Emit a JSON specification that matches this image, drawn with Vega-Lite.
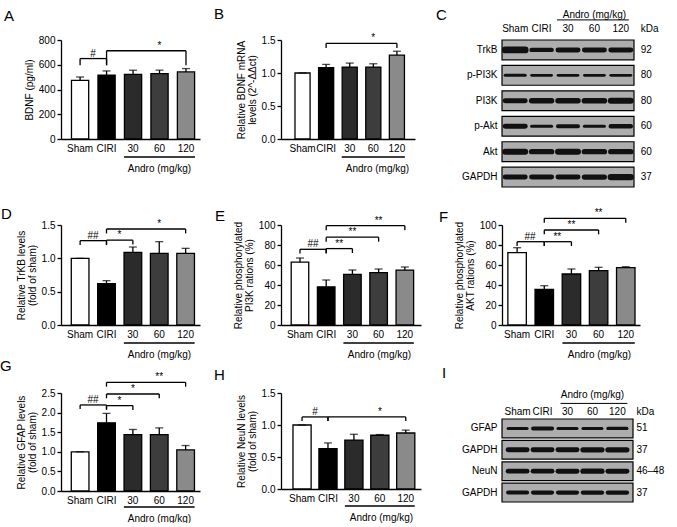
{
"$schema":"https://vega.github.io/schema/vega-lite/v6.json",
"background":"white",
"padding":{"left":0,"top":7,"right":0,"bottom":0},
"columns":3,
"bounds":"flush",
"spacing":{"row":68,"column":81},
"datasets":{
"bars":[
{"p":"A","g":"Sham","m":474,"hi":501},{"p":"A","g":"CIRI","m":515,"hi":550},{"p":"A","g":"30","m":523,"hi":556},{"p":"A","g":"60","m":528,"hi":556},{"p":"A","g":"120","m":542,"hi":569},
{"p":"B","g":"Sham","m":1.0,"hi":1.0},{"p":"B","g":"CIRI","m":1.08,"hi":1.13},{"p":"B","g":"30","m":1.09,"hi":1.15},{"p":"B","g":"60","m":1.09,"hi":1.14},{"p":"B","g":"120","m":1.27,"hi":1.33},
{"p":"D","g":"Sham","m":1.0,"hi":1.0},{"p":"D","g":"CIRI","m":0.62,"hi":0.665},{"p":"D","g":"30","m":1.09,"hi":1.17},{"p":"D","g":"60","m":1.075,"hi":1.25},{"p":"D","g":"120","m":1.075,"hi":1.15},
{"p":"E","g":"Sham","m":62.8,"hi":67},{"p":"E","g":"CIRI","m":38.2,"hi":45},{"p":"E","g":"30","m":50.7,"hi":55},{"p":"E","g":"60","m":52.4,"hi":56},{"p":"E","g":"120","m":54.9,"hi":58},
{"p":"F","g":"Sham","m":72.3,"hi":77.3},{"p":"F","g":"CIRI","m":35.7,"hi":39.3},{"p":"F","g":"30","m":51,"hi":56},{"p":"F","g":"60","m":54.3,"hi":57.7},{"p":"F","g":"120","m":57.3,"hi":58.3},
{"p":"G","g":"Sham","m":1.0,"hi":1.0},{"p":"G","g":"CIRI","m":1.74,"hi":1.98},{"p":"G","g":"30","m":1.44,"hi":1.57},{"p":"G","g":"60","m":1.44,"hi":1.61},{"p":"G","g":"120","m":1.05,"hi":1.16},
{"p":"H","g":"Sham","m":1.0,"hi":1.0},{"p":"H","g":"CIRI","m":0.63,"hi":0.72},{"p":"H","g":"30","m":0.765,"hi":0.855},{"p":"H","g":"60","m":0.84,"hi":0.85},{"p":"H","g":"120","m":0.875,"hi":0.92}
],
"brk":[
{"p":"A","a":"Sham","b":"CIRI","lv":650,"dr":596,"t":"#","adj":true,"mid":"Sham"},
{"p":"A","a":"CIRI","b":"120","lv":713,"dr":596,"t":"*","adj":false,"mid":"60"},
{"p":"B","a":"CIRI","b":"120","lv":1.45,"dr":1.38,"t":"*","adj":false,"mid":"60"},
{"p":"D","a":"Sham","b":"CIRI","lv":1.265,"dr":1.2,"t":"##","adj":true,"mid":"Sham"},
{"p":"D","a":"CIRI","b":"30","lv":1.273,"dr":1.208,"t":"*","adj":true,"mid":"CIRI"},
{"p":"D","a":"CIRI","b":"120","lv":1.44,"dr":1.374,"t":"*","adj":false,"mid":"60"},
{"p":"E","a":"Sham","b":"CIRI","lv":75.7,"dr":71.5,"t":"##","adj":true,"mid":"Sham"},
{"p":"E","a":"CIRI","b":"30","lv":76.4,"dr":72,"t":"**","adj":true,"mid":"CIRI"},
{"p":"E","a":"CIRI","b":"60","lv":87.8,"dr":83.3,"t":"**","adj":false,"mid":"30"},
{"p":"E","a":"CIRI","b":"120","lv":99.3,"dr":94.8,"t":"**","adj":false,"mid":"60"},
{"p":"F","a":"Sham","b":"CIRI","lv":83.3,"dr":79,"t":"##","adj":true,"mid":"Sham"},
{"p":"F","a":"CIRI","b":"30","lv":83.3,"dr":79,"t":"**","adj":true,"mid":"CIRI"},
{"p":"F","a":"CIRI","b":"60","lv":95,"dr":90.7,"t":"**","adj":false,"mid":"30"},
{"p":"F","a":"CIRI","b":"120","lv":106.7,"dr":102.3,"t":"**","adj":false,"mid":"60"},
{"p":"G","a":"Sham","b":"CIRI","lv":2.195,"dr":2.093,"t":"##","adj":true,"mid":"Sham"},
{"p":"G","a":"CIRI","b":"30","lv":2.178,"dr":2.068,"t":"*","adj":true,"mid":"CIRI"},
{"p":"G","a":"CIRI","b":"60","lv":2.475,"dr":2.364,"t":"*","adj":false,"mid":"30"},
{"p":"G","a":"CIRI","b":"120","lv":2.771,"dr":2.66,"t":"**","adj":false,"mid":"60"},
{"p":"H","a":"Sham","b":"CIRI","lv":1.126,"dr":1.063,"t":"#","adj":true,"mid":"Sham"},
{"p":"H","a":"CIRI","b":"120","lv":1.126,"dr":1.063,"t":"*","adj":false,"mid":"60"}
],
"blot":[
{"p":"C","r":"TrkB","k":"92"},{"p":"C","r":"p-PI3K","k":"80"},{"p":"C","r":"PI3K","k":"80"},{"p":"C","r":"p-Akt","k":"60"},{"p":"C","r":"Akt","k":"60"},{"p":"C","r":"GAPDH","k":"37"},
{"p":"I","r":"GFAP","k":"51"},{"p":"I","r":"GAPDH#1","k":"37"},{"p":"I","r":"NeuN","k":"46–48"},{"p":"I","r":"GAPDH#2","k":"37"}
],
"band":[
{"p":"C","r":"TrkB","l":"Sham","v":0.85},{"p":"C","r":"TrkB","l":"CIRI","v":0.55},{"p":"C","r":"TrkB","l":"30","v":0.62},{"p":"C","r":"TrkB","l":"60","v":0.62},{"p":"C","r":"TrkB","l":"120","v":0.62},
{"p":"C","r":"p-PI3K","l":"Sham","v":0.38},{"p":"C","r":"p-PI3K","l":"CIRI","v":0.34},{"p":"C","r":"p-PI3K","l":"30","v":0.34},{"p":"C","r":"p-PI3K","l":"60","v":0.34},{"p":"C","r":"p-PI3K","l":"120","v":0.36},
{"p":"C","r":"PI3K","l":"Sham","v":0.62},{"p":"C","r":"PI3K","l":"CIRI","v":0.68},{"p":"C","r":"PI3K","l":"30","v":0.68},{"p":"C","r":"PI3K","l":"60","v":0.7},{"p":"C","r":"PI3K","l":"120","v":0.75},
{"p":"C","r":"p-Akt","l":"Sham","v":0.62},{"p":"C","r":"p-Akt","l":"CIRI","v":0.38},{"p":"C","r":"p-Akt","l":"30","v":0.5},{"p":"C","r":"p-Akt","l":"60","v":0.38},{"p":"C","r":"p-Akt","l":"120","v":0.55},
{"p":"C","r":"Akt","l":"Sham","v":0.75},{"p":"C","r":"Akt","l":"CIRI","v":0.68},{"p":"C","r":"Akt","l":"30","v":0.75},{"p":"C","r":"Akt","l":"60","v":0.68},{"p":"C","r":"Akt","l":"120","v":0.68},
{"p":"C","r":"GAPDH","l":"Sham","v":0.62},{"p":"C","r":"GAPDH","l":"CIRI","v":0.62},{"p":"C","r":"GAPDH","l":"30","v":0.62},{"p":"C","r":"GAPDH","l":"60","v":0.65},{"p":"C","r":"GAPDH","l":"120","v":0.8},
{"p":"I","r":"GFAP","l":"Sham","v":0.38},{"p":"I","r":"GFAP","l":"CIRI","v":0.5},{"p":"I","r":"GFAP","l":"30","v":0.38},{"p":"I","r":"GFAP","l":"60","v":0.38},{"p":"I","r":"GFAP","l":"120","v":0.4},
{"p":"I","r":"GAPDH#1","l":"Sham","v":0.62},{"p":"I","r":"GAPDH#1","l":"CIRI","v":0.62},{"p":"I","r":"GAPDH#1","l":"30","v":0.62},{"p":"I","r":"GAPDH#1","l":"60","v":0.65},{"p":"I","r":"GAPDH#1","l":"120","v":0.65},
{"p":"I","r":"NeuN","l":"Sham","v":0.6},{"p":"I","r":"NeuN","l":"CIRI","v":0.6},{"p":"I","r":"NeuN","l":"30","v":0.62},{"p":"I","r":"NeuN","l":"60","v":0.65},{"p":"I","r":"NeuN","l":"120","v":0.62},
{"p":"I","r":"GAPDH#2","l":"Sham","v":0.5},{"p":"I","r":"GAPDH#2","l":"CIRI","v":0.52},{"p":"I","r":"GAPDH#2","l":"30","v":0.52},{"p":"I","r":"GAPDH#2","l":"60","v":0.55},{"p":"I","r":"GAPDH#2","l":"120","v":0.55}
]
},
"concat":[
{"width":139,"height":99,"title":{"text":"A","dx":-57,"dy":-5},
"layer":[
{"data":{"name":"bars"},"transform":[{"filter":"datum.p=='A'"}],"mark":{"type":"bar","stroke":"black","strokeWidth":1.3},
"encoding":{"x":{"field":"g","type":"nominal","scale":{"domain":["Sham","CIRI","30","60","120"],"paddingInner":0.35,"paddingOuter":0.3,"align":0.66},"axis":{"title":"Andro (mg/kg)","titleX":98,"titleY":29,"titleAlign":"center","titleBaseline":"middle","ticks":false,"labelPadding":4}},
"y":{"field":"m","type":"quantitative","scale":{"domain":[0,800],"nice":false},"axis":{"title":"BDNF (pg/ml)","values":[0,200,400,600,800],"tickCount":20}},
"fill":{"field":"g","type":"nominal","scale":{"domain":["Sham","CIRI","30","60","120"],"range":["#ffffff","#000000","#2b2b2b","#3d3d3d","#8a8a8a"]},"legend":null}}},
{"data":{"name":"bars"},"transform":[{"filter":"datum.p=='A'"}],"mark":{"type":"rule","color":"black","strokeWidth":1.3},"encoding":{"x":{"field":"g","type":"nominal"},"y":{"field":"m","type":"quantitative"},"y2":{"field":"hi"}}},
{"data":{"name":"bars"},"transform":[{"filter":"datum.p=='A'"}],"mark":{"type":"tick","color":"black","thickness":1.3,"size":8},"encoding":{"x":{"field":"g","type":"nominal"},"y":{"field":"hi","type":"quantitative"}}},
{"data":{"name":"brk"},"transform":[{"filter":"datum.p=='A'"}],"mark":{"type":"rule","color":"black","strokeWidth":1.3},"encoding":{"x":{"field":"a","type":"nominal"},"x2":{"field":"b"},"y":{"field":"lv","type":"quantitative"}}},
{"data":{"name":"brk"},"transform":[{"filter":"datum.p=='A'"}],"mark":{"type":"rule","color":"black","strokeWidth":1.3},"encoding":{"x":{"field":"a","type":"nominal"},"y":{"field":"lv","type":"quantitative"},"y2":{"field":"dr"}}},
{"data":{"name":"brk"},"transform":[{"filter":"datum.p=='A'"}],"mark":{"type":"rule","color":"black","strokeWidth":1.3},"encoding":{"x":{"field":"b","type":"nominal"},"y":{"field":"lv","type":"quantitative"},"y2":{"field":"dr"}}},
{"data":{"name":"brk"},"transform":[{"filter":"datum.p=='A' && datum.adj"}],"mark":{"type":"text","fontSize":10,"dx":13,"dy":-2,"baseline":"alphabetic"},"encoding":{"x":{"field":"a","type":"nominal"},"y":{"field":"lv","type":"quantitative"},"text":{"field":"t"}}},
{"data":{"name":"brk"},"transform":[{"filter":"datum.p=='A' && !datum.adj"}],"mark":{"type":"text","fontSize":10,"dy":-2,"baseline":"alphabetic"},"encoding":{"x":{"field":"mid","type":"nominal"},"y":{"field":"lv","type":"quantitative"},"text":{"field":"t"}}},
{"data":{"values":[{}]},"mark":{"type":"rule","color":"black","strokeWidth":1.3,"xOffset":-9,"x2Offset":9,"yOffset":18},"encoding":{"x":{"datum":"30","type":"nominal"},"x2":{"datum":"120"},"y":{"datum":0,"type":"quantitative"}}}
]},
{"width":134,"height":99,"title":{"text":"B","dx":-67,"dy":-5},
"layer":[
{"data":{"name":"bars"},"transform":[{"filter":"datum.p=='B'"}],"mark":{"type":"bar","stroke":"black","strokeWidth":1.3},
"encoding":{"x":{"field":"g","type":"nominal","scale":{"domain":["Sham","CIRI","30","60","120"],"paddingInner":0.36,"paddingOuter":0.52,"align":0.57},"axis":{"title":"Andro (mg/kg)","titleX":96,"titleY":29,"titleAlign":"center","titleBaseline":"middle","ticks":false,"labelPadding":4}},
"y":{"field":"m","type":"quantitative","scale":{"domain":[0,1.5],"nice":false},"axis":{"title":["Relative BDNF mRNA","levels (2^-ΔΔct)"],"values":[0,0.5,1,1.5],"tickCount":20,"labelExpr":"format(datum.value,'.1f')"}},
"fill":{"field":"g","type":"nominal","scale":{"domain":["Sham","CIRI","30","60","120"],"range":["#ffffff","#000000","#2b2b2b","#3d3d3d","#8a8a8a"]},"legend":null}}},
{"data":{"name":"bars"},"transform":[{"filter":"datum.p=='B'"}],"mark":{"type":"rule","color":"black","strokeWidth":1.3},"encoding":{"x":{"field":"g","type":"nominal"},"y":{"field":"m","type":"quantitative"},"y2":{"field":"hi"}}},
{"data":{"name":"bars"},"transform":[{"filter":"datum.p=='B'"}],"mark":{"type":"tick","color":"black","thickness":1.3,"size":8},"encoding":{"x":{"field":"g","type":"nominal"},"y":{"field":"hi","type":"quantitative"}}},
{"data":{"name":"brk"},"transform":[{"filter":"datum.p=='B'"}],"mark":{"type":"rule","color":"black","strokeWidth":1.3},"encoding":{"x":{"field":"a","type":"nominal"},"x2":{"field":"b"},"y":{"field":"lv","type":"quantitative"}}},
{"data":{"name":"brk"},"transform":[{"filter":"datum.p=='B'"}],"mark":{"type":"rule","color":"black","strokeWidth":1.3},"encoding":{"x":{"field":"a","type":"nominal"},"y":{"field":"lv","type":"quantitative"},"y2":{"field":"dr"}}},
{"data":{"name":"brk"},"transform":[{"filter":"datum.p=='B'"}],"mark":{"type":"rule","color":"black","strokeWidth":1.3},"encoding":{"x":{"field":"b","type":"nominal"},"y":{"field":"lv","type":"quantitative"},"y2":{"field":"dr"}}},
{"data":{"name":"brk"},"transform":[{"filter":"datum.p=='B' && !datum.adj"}],"mark":{"type":"text","fontSize":10,"dy":-2,"baseline":"alphabetic"},"encoding":{"x":{"field":"mid","type":"nominal"},"y":{"field":"lv","type":"quantitative"},"text":{"field":"t"}}},
{"data":{"values":[{}]},"mark":{"type":"rule","color":"black","strokeWidth":1.3,"xOffset":-8,"x2Offset":8,"yOffset":18},"encoding":{"x":{"datum":"30","type":"nominal"},"x2":{"datum":"120"},"y":{"datum":0,"type":"quantitative"}}}
]},
{"width":132,"height":117,"title":{"text":"C","dx":-66,"dy":19},
"layer":[
{"data":{"name":"blot"},"transform":[{"filter":"datum.p=='C'"}],"mark":{"type":"rect","fill":"#adadad","stroke":"black","strokeWidth":1.2},
"encoding":{"y":{"field":"r","type":"nominal","scale":{"domain":["TrkB","p-PI3K","PI3K","p-Akt","Akt","GAPDH"],"range":[0,147],"paddingInner":0.22,"paddingOuter":0},"axis":{"title":null,"domain":false,"ticks":false,"labelPadding":5,"labelExpr":"split(datum.value,'#')[0]"}}}},
{"data":{"name":"band"},"transform":[{"filter":"datum.p=='C'"}],"mark":{"type":"point","shape":"stroke","size":400,"color":"#111111","filled":false,"strokeCap":"round","opacity":1},
"encoding":{"x":{"field":"l","type":"nominal","scale":{"domain":["Sham","CIRI","30","60","120"],"paddingInner":0.1,"paddingOuter":0.05},"axis":null},"y":{"field":"r","type":"nominal"},"strokeWidth":{"field":"v","type":"quantitative","scale":{"domain":[0,1],"range":[0,8]},"legend":null}}},
{"data":{"name":"band"},"transform":[{"filter":"datum.p=='C' && datum.r=='TrkB'"}],"mark":{"type":"text","fontSize":10,"dy":-21},"encoding":{"x":{"field":"l","type":"nominal"},"y":{"field":"r","type":"nominal"},"text":{"field":"l"}}},
{"data":{"name":"blot"},"transform":[{"filter":"datum.p=='C'"}],"mark":{"type":"text","fontSize":10,"align":"left","dx":20},"encoding":{"x":{"datum":"120","type":"nominal"},"y":{"field":"r","type":"nominal"},"text":{"field":"k"}}},
{"data":{"values":[{"h":"Andro (mg/kg)","u":"kDa"}]},"mark":{"type":"text","fontSize":10,"dy":-35},"encoding":{"x":{"datum":"60","type":"nominal"},"y":{"datum":"TrkB","type":"nominal"},"text":{"field":"h"}}},
{"data":{"values":[{"h":"Andro (mg/kg)","u":"kDa"}]},"mark":{"type":"text","fontSize":10,"dy":-21,"dx":20,"align":"left"},"encoding":{"x":{"datum":"120","type":"nominal"},"y":{"datum":"TrkB","type":"nominal"},"text":{"field":"u"}}},
{"data":{"values":[{}]},"mark":{"type":"rule","color":"black","strokeWidth":1,"xOffset":-11,"x2Offset":8,"yOffset":-30},"encoding":{"x":{"datum":"30","type":"nominal"},"x2":{"datum":"120"},"y":{"datum":"TrkB","type":"nominal"}}}
]},
{"width":139,"height":100,"title":{"text":"D","dx":-60,"dy":9},
"layer":[
{"data":{"name":"bars"},"transform":[{"filter":"datum.p=='D'"}],"mark":{"type":"bar","stroke":"black","strokeWidth":1.3},
"encoding":{"x":{"field":"g","type":"nominal","scale":{"domain":["Sham","CIRI","30","60","120"],"paddingInner":0.33,"paddingOuter":0.3,"align":0.65},"axis":{"title":"Andro (mg/kg)","titleX":98,"titleY":29,"titleAlign":"center","titleBaseline":"middle","ticks":false,"labelPadding":4}},
"y":{"field":"m","type":"quantitative","scale":{"domain":[0,1.5],"nice":false},"axis":{"title":["Relative TrKB levels","(fold of sham)"],"values":[0,0.5,1,1.5],"tickCount":20,"labelExpr":"format(datum.value,'.1f')"}},
"fill":{"field":"g","type":"nominal","scale":{"domain":["Sham","CIRI","30","60","120"],"range":["#ffffff","#000000","#2b2b2b","#3d3d3d","#8a8a8a"]},"legend":null}}},
{"data":{"name":"bars"},"transform":[{"filter":"datum.p=='D'"}],"mark":{"type":"rule","color":"black","strokeWidth":1.3},"encoding":{"x":{"field":"g","type":"nominal"},"y":{"field":"m","type":"quantitative"},"y2":{"field":"hi"}}},
{"data":{"name":"bars"},"transform":[{"filter":"datum.p=='D'"}],"mark":{"type":"tick","color":"black","thickness":1.3,"size":8},"encoding":{"x":{"field":"g","type":"nominal"},"y":{"field":"hi","type":"quantitative"}}},
{"data":{"name":"brk"},"transform":[{"filter":"datum.p=='D'"}],"mark":{"type":"rule","color":"black","strokeWidth":1.3},"encoding":{"x":{"field":"a","type":"nominal"},"x2":{"field":"b"},"y":{"field":"lv","type":"quantitative"}}},
{"data":{"name":"brk"},"transform":[{"filter":"datum.p=='D'"}],"mark":{"type":"rule","color":"black","strokeWidth":1.3},"encoding":{"x":{"field":"a","type":"nominal"},"y":{"field":"lv","type":"quantitative"},"y2":{"field":"dr"}}},
{"data":{"name":"brk"},"transform":[{"filter":"datum.p=='D'"}],"mark":{"type":"rule","color":"black","strokeWidth":1.3},"encoding":{"x":{"field":"b","type":"nominal"},"y":{"field":"lv","type":"quantitative"},"y2":{"field":"dr"}}},
{"data":{"name":"brk"},"transform":[{"filter":"datum.p=='D' && datum.adj"}],"mark":{"type":"text","fontSize":10,"dx":13,"dy":-2,"baseline":"alphabetic"},"encoding":{"x":{"field":"a","type":"nominal"},"y":{"field":"lv","type":"quantitative"},"text":{"field":"t"}}},
{"data":{"name":"brk"},"transform":[{"filter":"datum.p=='D' && !datum.adj"}],"mark":{"type":"text","fontSize":10,"dy":-2,"baseline":"alphabetic"},"encoding":{"x":{"field":"mid","type":"nominal"},"y":{"field":"lv","type":"quantitative"},"text":{"field":"t"}}},
{"data":{"values":[{}]},"mark":{"type":"rule","color":"black","strokeWidth":1.3,"xOffset":-9,"x2Offset":9,"yOffset":18},"encoding":{"x":{"datum":"30","type":"nominal"},"x2":{"datum":"120"},"y":{"datum":0,"type":"quantitative"}}}
]},
{"width":140,"height":100,"title":{"text":"E","dx":-66,"dy":14},
"layer":[
{"data":{"name":"bars"},"transform":[{"filter":"datum.p=='E'"}],"mark":{"type":"bar","stroke":"black","strokeWidth":1.3},
"encoding":{"x":{"field":"g","type":"nominal","scale":{"domain":["Sham","CIRI","30","60","120"],"paddingInner":0.33,"paddingOuter":0.335,"align":0.58},"axis":{"title":"Andro (mg/kg)","titleX":98,"titleY":29,"titleAlign":"center","titleBaseline":"middle","ticks":false,"labelPadding":4}},
"y":{"field":"m","type":"quantitative","scale":{"domain":[0,100],"nice":false},"axis":{"title":["Relative phosphorylated","PI3K rations (%)"],"values":[0,20,40,60,80,100],"tickCount":20}},
"fill":{"field":"g","type":"nominal","scale":{"domain":["Sham","CIRI","30","60","120"],"range":["#ffffff","#000000","#2b2b2b","#3d3d3d","#8a8a8a"]},"legend":null}}},
{"data":{"name":"bars"},"transform":[{"filter":"datum.p=='E'"}],"mark":{"type":"rule","color":"black","strokeWidth":1.3},"encoding":{"x":{"field":"g","type":"nominal"},"y":{"field":"m","type":"quantitative"},"y2":{"field":"hi"}}},
{"data":{"name":"bars"},"transform":[{"filter":"datum.p=='E'"}],"mark":{"type":"tick","color":"black","thickness":1.3,"size":8},"encoding":{"x":{"field":"g","type":"nominal"},"y":{"field":"hi","type":"quantitative"}}},
{"data":{"name":"brk"},"transform":[{"filter":"datum.p=='E'"}],"mark":{"type":"rule","color":"black","strokeWidth":1.3},"encoding":{"x":{"field":"a","type":"nominal"},"x2":{"field":"b"},"y":{"field":"lv","type":"quantitative"}}},
{"data":{"name":"brk"},"transform":[{"filter":"datum.p=='E'"}],"mark":{"type":"rule","color":"black","strokeWidth":1.3},"encoding":{"x":{"field":"a","type":"nominal"},"y":{"field":"lv","type":"quantitative"},"y2":{"field":"dr"}}},
{"data":{"name":"brk"},"transform":[{"filter":"datum.p=='E'"}],"mark":{"type":"rule","color":"black","strokeWidth":1.3},"encoding":{"x":{"field":"b","type":"nominal"},"y":{"field":"lv","type":"quantitative"},"y2":{"field":"dr"}}},
{"data":{"name":"brk"},"transform":[{"filter":"datum.p=='E' && datum.adj"}],"mark":{"type":"text","fontSize":10,"dx":13,"dy":-2,"baseline":"alphabetic"},"encoding":{"x":{"field":"a","type":"nominal"},"y":{"field":"lv","type":"quantitative"},"text":{"field":"t"}}},
{"data":{"name":"brk"},"transform":[{"filter":"datum.p=='E' && !datum.adj"}],"mark":{"type":"text","fontSize":10,"dy":-2,"baseline":"alphabetic"},"encoding":{"x":{"field":"mid","type":"nominal"},"y":{"field":"lv","type":"quantitative"},"text":{"field":"t"}}},
{"data":{"values":[{}]},"mark":{"type":"rule","color":"black","strokeWidth":1.3,"xOffset":-9,"x2Offset":9,"yOffset":18},"encoding":{"x":{"datum":"30","type":"nominal"},"x2":{"datum":"120"},"y":{"datum":0,"type":"quantitative"}}}
]},
{"width":138,"height":100,"title":{"text":"F","dx":-63,"dy":23},
"layer":[
{"data":{"name":"bars"},"transform":[{"filter":"datum.p=='F'"}],"mark":{"type":"bar","stroke":"black","strokeWidth":1.3},
"encoding":{"x":{"field":"g","type":"nominal","scale":{"domain":["Sham","CIRI","30","60","120"],"paddingInner":0.32,"paddingOuter":0.2,"align":0.54},"axis":{"title":"Andro (mg/kg)","titleX":97,"titleY":29,"titleAlign":"center","titleBaseline":"middle","ticks":false,"labelPadding":4}},
"y":{"field":"m","type":"quantitative","scale":{"domain":[0,100],"nice":false},"axis":{"title":["Relative phosphorylated","AKT rations (%)"],"values":[0,20,40,60,80,100],"tickCount":20}},
"fill":{"field":"g","type":"nominal","scale":{"domain":["Sham","CIRI","30","60","120"],"range":["#ffffff","#000000","#2b2b2b","#3d3d3d","#8a8a8a"]},"legend":null}}},
{"data":{"name":"bars"},"transform":[{"filter":"datum.p=='F'"}],"mark":{"type":"rule","color":"black","strokeWidth":1.3},"encoding":{"x":{"field":"g","type":"nominal"},"y":{"field":"m","type":"quantitative"},"y2":{"field":"hi"}}},
{"data":{"name":"bars"},"transform":[{"filter":"datum.p=='F'"}],"mark":{"type":"tick","color":"black","thickness":1.3,"size":8},"encoding":{"x":{"field":"g","type":"nominal"},"y":{"field":"hi","type":"quantitative"}}},
{"data":{"name":"brk"},"transform":[{"filter":"datum.p=='F'"}],"mark":{"type":"rule","color":"black","strokeWidth":1.3},"encoding":{"x":{"field":"a","type":"nominal"},"x2":{"field":"b"},"y":{"field":"lv","type":"quantitative"}}},
{"data":{"name":"brk"},"transform":[{"filter":"datum.p=='F'"}],"mark":{"type":"rule","color":"black","strokeWidth":1.3},"encoding":{"x":{"field":"a","type":"nominal"},"y":{"field":"lv","type":"quantitative"},"y2":{"field":"dr"}}},
{"data":{"name":"brk"},"transform":[{"filter":"datum.p=='F'"}],"mark":{"type":"rule","color":"black","strokeWidth":1.3},"encoding":{"x":{"field":"b","type":"nominal"},"y":{"field":"lv","type":"quantitative"},"y2":{"field":"dr"}}},
{"data":{"name":"brk"},"transform":[{"filter":"datum.p=='F' && datum.adj"}],"mark":{"type":"text","fontSize":10,"dx":13,"dy":-2,"baseline":"alphabetic"},"encoding":{"x":{"field":"a","type":"nominal"},"y":{"field":"lv","type":"quantitative"},"text":{"field":"t"}}},
{"data":{"name":"brk"},"transform":[{"filter":"datum.p=='F' && !datum.adj"}],"mark":{"type":"text","fontSize":10,"dy":-2,"baseline":"alphabetic"},"encoding":{"x":{"field":"mid","type":"nominal"},"y":{"field":"lv","type":"quantitative"},"text":{"field":"t"}}},
{"data":{"values":[{}]},"mark":{"type":"rule","color":"black","strokeWidth":1.3,"xOffset":-9,"x2Offset":9,"yOffset":18},"encoding":{"x":{"datum":"30","type":"nominal"},"x2":{"datum":"120"},"y":{"datum":0,"type":"quantitative"}}}
]},
{"width":139,"height":98,"title":{"text":"G","dx":-61,"dy":8},
"layer":[
{"data":{"name":"bars"},"transform":[{"filter":"datum.p=='G'"}],"mark":{"type":"bar","stroke":"black","strokeWidth":1.3},
"encoding":{"x":{"field":"g","type":"nominal","scale":{"domain":["Sham","CIRI","30","60","120"],"paddingInner":0.33,"paddingOuter":0.3,"align":0.65},"axis":{"title":"Andro (mg/kg)","titleX":98,"titleY":27,"titleAlign":"center","titleBaseline":"middle","ticks":false,"labelPadding":4}},
"y":{"field":"m","type":"quantitative","scale":{"domain":[0,2.5],"nice":false},"axis":{"title":["Relative GFAP levels","(fold of sham)"],"values":[0,0.5,1,1.5,2,2.5],"tickCount":20,"labelExpr":"format(datum.value,'.1f')"}},
"fill":{"field":"g","type":"nominal","scale":{"domain":["Sham","CIRI","30","60","120"],"range":["#ffffff","#000000","#2b2b2b","#3d3d3d","#8a8a8a"]},"legend":null}}},
{"data":{"name":"bars"},"transform":[{"filter":"datum.p=='G'"}],"mark":{"type":"rule","color":"black","strokeWidth":1.3},"encoding":{"x":{"field":"g","type":"nominal"},"y":{"field":"m","type":"quantitative"},"y2":{"field":"hi"}}},
{"data":{"name":"bars"},"transform":[{"filter":"datum.p=='G'"}],"mark":{"type":"tick","color":"black","thickness":1.3,"size":8},"encoding":{"x":{"field":"g","type":"nominal"},"y":{"field":"hi","type":"quantitative"}}},
{"data":{"name":"brk"},"transform":[{"filter":"datum.p=='G'"}],"mark":{"type":"rule","color":"black","strokeWidth":1.3},"encoding":{"x":{"field":"a","type":"nominal"},"x2":{"field":"b"},"y":{"field":"lv","type":"quantitative"}}},
{"data":{"name":"brk"},"transform":[{"filter":"datum.p=='G'"}],"mark":{"type":"rule","color":"black","strokeWidth":1.3},"encoding":{"x":{"field":"a","type":"nominal"},"y":{"field":"lv","type":"quantitative"},"y2":{"field":"dr"}}},
{"data":{"name":"brk"},"transform":[{"filter":"datum.p=='G'"}],"mark":{"type":"rule","color":"black","strokeWidth":1.3},"encoding":{"x":{"field":"b","type":"nominal"},"y":{"field":"lv","type":"quantitative"},"y2":{"field":"dr"}}},
{"data":{"name":"brk"},"transform":[{"filter":"datum.p=='G' && datum.adj"}],"mark":{"type":"text","fontSize":10,"dx":13,"dy":-2,"baseline":"alphabetic"},"encoding":{"x":{"field":"a","type":"nominal"},"y":{"field":"lv","type":"quantitative"},"text":{"field":"t"}}},
{"data":{"name":"brk"},"transform":[{"filter":"datum.p=='G' && !datum.adj"}],"mark":{"type":"text","fontSize":10,"dy":-2,"baseline":"alphabetic"},"encoding":{"x":{"field":"mid","type":"nominal"},"y":{"field":"lv","type":"quantitative"},"text":{"field":"t"}}},
{"data":{"values":[{}]},"mark":{"type":"rule","color":"black","strokeWidth":1.3,"xOffset":-9,"x2Offset":9,"yOffset":16},"encoding":{"x":{"datum":"30","type":"nominal"},"x2":{"datum":"120"},"y":{"datum":0,"type":"quantitative"}}}
]},
{"width":140,"height":96,"title":{"text":"H","dx":-67,"dy":1},
"layer":[
{"data":{"name":"bars"},"transform":[{"filter":"datum.p=='H'"}],"mark":{"type":"bar","stroke":"black","strokeWidth":1.3},
"encoding":{"x":{"field":"g","type":"nominal","scale":{"domain":["Sham","CIRI","30","60","120"],"paddingInner":0.3,"paddingOuter":0.35,"align":0.66},"axis":{"title":"Andro (mg/kg)","titleX":100,"titleY":28,"titleAlign":"center","titleBaseline":"middle","ticks":false,"labelPadding":4}},
"y":{"field":"m","type":"quantitative","scale":{"domain":[0,1.5],"nice":false},"axis":{"title":["Relative NeuN levels","(fold of sham)"],"values":[0,0.5,1,1.5],"tickCount":20,"labelExpr":"format(datum.value,'.1f')"}},
"fill":{"field":"g","type":"nominal","scale":{"domain":["Sham","CIRI","30","60","120"],"range":["#ffffff","#000000","#2b2b2b","#3d3d3d","#8a8a8a"]},"legend":null}}},
{"data":{"name":"bars"},"transform":[{"filter":"datum.p=='H'"}],"mark":{"type":"rule","color":"black","strokeWidth":1.3},"encoding":{"x":{"field":"g","type":"nominal"},"y":{"field":"m","type":"quantitative"},"y2":{"field":"hi"}}},
{"data":{"name":"bars"},"transform":[{"filter":"datum.p=='H'"}],"mark":{"type":"tick","color":"black","thickness":1.3,"size":8},"encoding":{"x":{"field":"g","type":"nominal"},"y":{"field":"hi","type":"quantitative"}}},
{"data":{"name":"brk"},"transform":[{"filter":"datum.p=='H'"}],"mark":{"type":"rule","color":"black","strokeWidth":1.3},"encoding":{"x":{"field":"a","type":"nominal"},"x2":{"field":"b"},"y":{"field":"lv","type":"quantitative"}}},
{"data":{"name":"brk"},"transform":[{"filter":"datum.p=='H'"}],"mark":{"type":"rule","color":"black","strokeWidth":1.3},"encoding":{"x":{"field":"a","type":"nominal"},"y":{"field":"lv","type":"quantitative"},"y2":{"field":"dr"}}},
{"data":{"name":"brk"},"transform":[{"filter":"datum.p=='H'"}],"mark":{"type":"rule","color":"black","strokeWidth":1.3},"encoding":{"x":{"field":"b","type":"nominal"},"y":{"field":"lv","type":"quantitative"},"y2":{"field":"dr"}}},
{"data":{"name":"brk"},"transform":[{"filter":"datum.p=='H' && datum.adj"}],"mark":{"type":"text","fontSize":10,"dx":13,"dy":-2,"baseline":"alphabetic"},"encoding":{"x":{"field":"a","type":"nominal"},"y":{"field":"lv","type":"quantitative"},"text":{"field":"t"}}},
{"data":{"name":"brk"},"transform":[{"filter":"datum.p=='H' && !datum.adj"}],"mark":{"type":"text","fontSize":10,"dy":-2,"baseline":"alphabetic"},"encoding":{"x":{"field":"mid","type":"nominal"},"y":{"field":"lv","type":"quantitative"},"text":{"field":"t"}}},
{"data":{"values":[{}]},"mark":{"type":"rule","color":"black","strokeWidth":1.3,"xOffset":-9,"x2Offset":9,"yOffset":17},"encoding":{"x":{"datum":"30","type":"nominal"},"x2":{"datum":"120"},"y":{"datum":0,"type":"quantitative"}}}
]},
{"width":131,"height":98,"title":{"text":"I","dx":-60,"dy":-3},
"layer":[
{"data":{"name":"blot"},"transform":[{"filter":"datum.p=='I'"}],"mark":{"type":"rect","fill":"#adadad","stroke":"black","strokeWidth":1.2},
"encoding":{"y":{"field":"r","type":"nominal","scale":{"domain":["GFAP","GAPDH#1","NeuN","GAPDH#2"],"range":[26,109],"paddingInner":0.12,"paddingOuter":0},"axis":{"title":null,"domain":false,"ticks":false,"labelPadding":5,"labelExpr":"split(datum.value,'#')[0]"}}}},
{"data":{"name":"band"},"transform":[{"filter":"datum.p=='I'"}],"mark":{"type":"point","shape":"stroke","size":360,"color":"#111111","filled":false,"strokeCap":"round","opacity":1},
"encoding":{"x":{"field":"l","type":"nominal","scale":{"domain":["Sham","CIRI","30","60","120"],"paddingInner":0.15,"paddingOuter":0.2},"axis":null},"y":{"field":"r","type":"nominal"},"strokeWidth":{"field":"v","type":"quantitative","scale":{"domain":[0,1],"range":[0,8]},"legend":null}}},
{"data":{"name":"band"},"transform":[{"filter":"datum.p=='I' && datum.r=='GFAP'"}],"mark":{"type":"text","fontSize":10,"dy":-16},"encoding":{"x":{"field":"l","type":"nominal"},"y":{"field":"r","type":"nominal"},"text":{"field":"l"}}},
{"data":{"name":"blot"},"transform":[{"filter":"datum.p=='I'"}],"mark":{"type":"text","fontSize":10,"align":"left","dx":19},"encoding":{"x":{"datum":"120","type":"nominal"},"y":{"field":"r","type":"nominal"},"text":{"field":"k"}}},
{"data":{"values":[{"h":"Andro (mg/kg)","u":"kDa"}]},"mark":{"type":"text","fontSize":10,"dy":-33},"encoding":{"x":{"datum":"60","type":"nominal"},"y":{"datum":"GFAP","type":"nominal"},"text":{"field":"h"}}},
{"data":{"values":[{"h":"Andro (mg/kg)","u":"kDa"}]},"mark":{"type":"text","fontSize":10,"dy":-16,"dx":19,"align":"left"},"encoding":{"x":{"datum":"120","type":"nominal"},"y":{"datum":"GFAP","type":"nominal"},"text":{"field":"u"}}},
{"data":{"values":[{}]},"mark":{"type":"rule","color":"black","strokeWidth":1,"xOffset":-7,"x2Offset":10,"yOffset":-25},"encoding":{"x":{"datum":"30","type":"nominal"},"x2":{"datum":"120"},"y":{"datum":"GFAP","type":"nominal"}}}
]}
],
"config":{
"font":"Liberation Sans",
"view":{"stroke":null},
"axis":{"domainColor":"black","domainWidth":1.3,"tickColor":"black","tickWidth":1.3,"tickSize":4,"labelColor":"black","labelFontSize":10,"titleColor":"black","titleFontSize":10,"titleFontWeight":"normal","grid":false,"labelFont":"Liberation Sans","titleFont":"Liberation Sans","titlePadding":4,"titleLineHeight":11,"labelOverlap":false,"labelFlush":false,"labelBound":false},
"axisX":{"labelAngle":0},
"title":{"fontSize":15,"fontWeight":"normal","anchor":"start","frame":"group","font":"Liberation Sans","color":"black","offset":6},
"text":{"font":"Liberation Sans","color":"black"}
}
}
